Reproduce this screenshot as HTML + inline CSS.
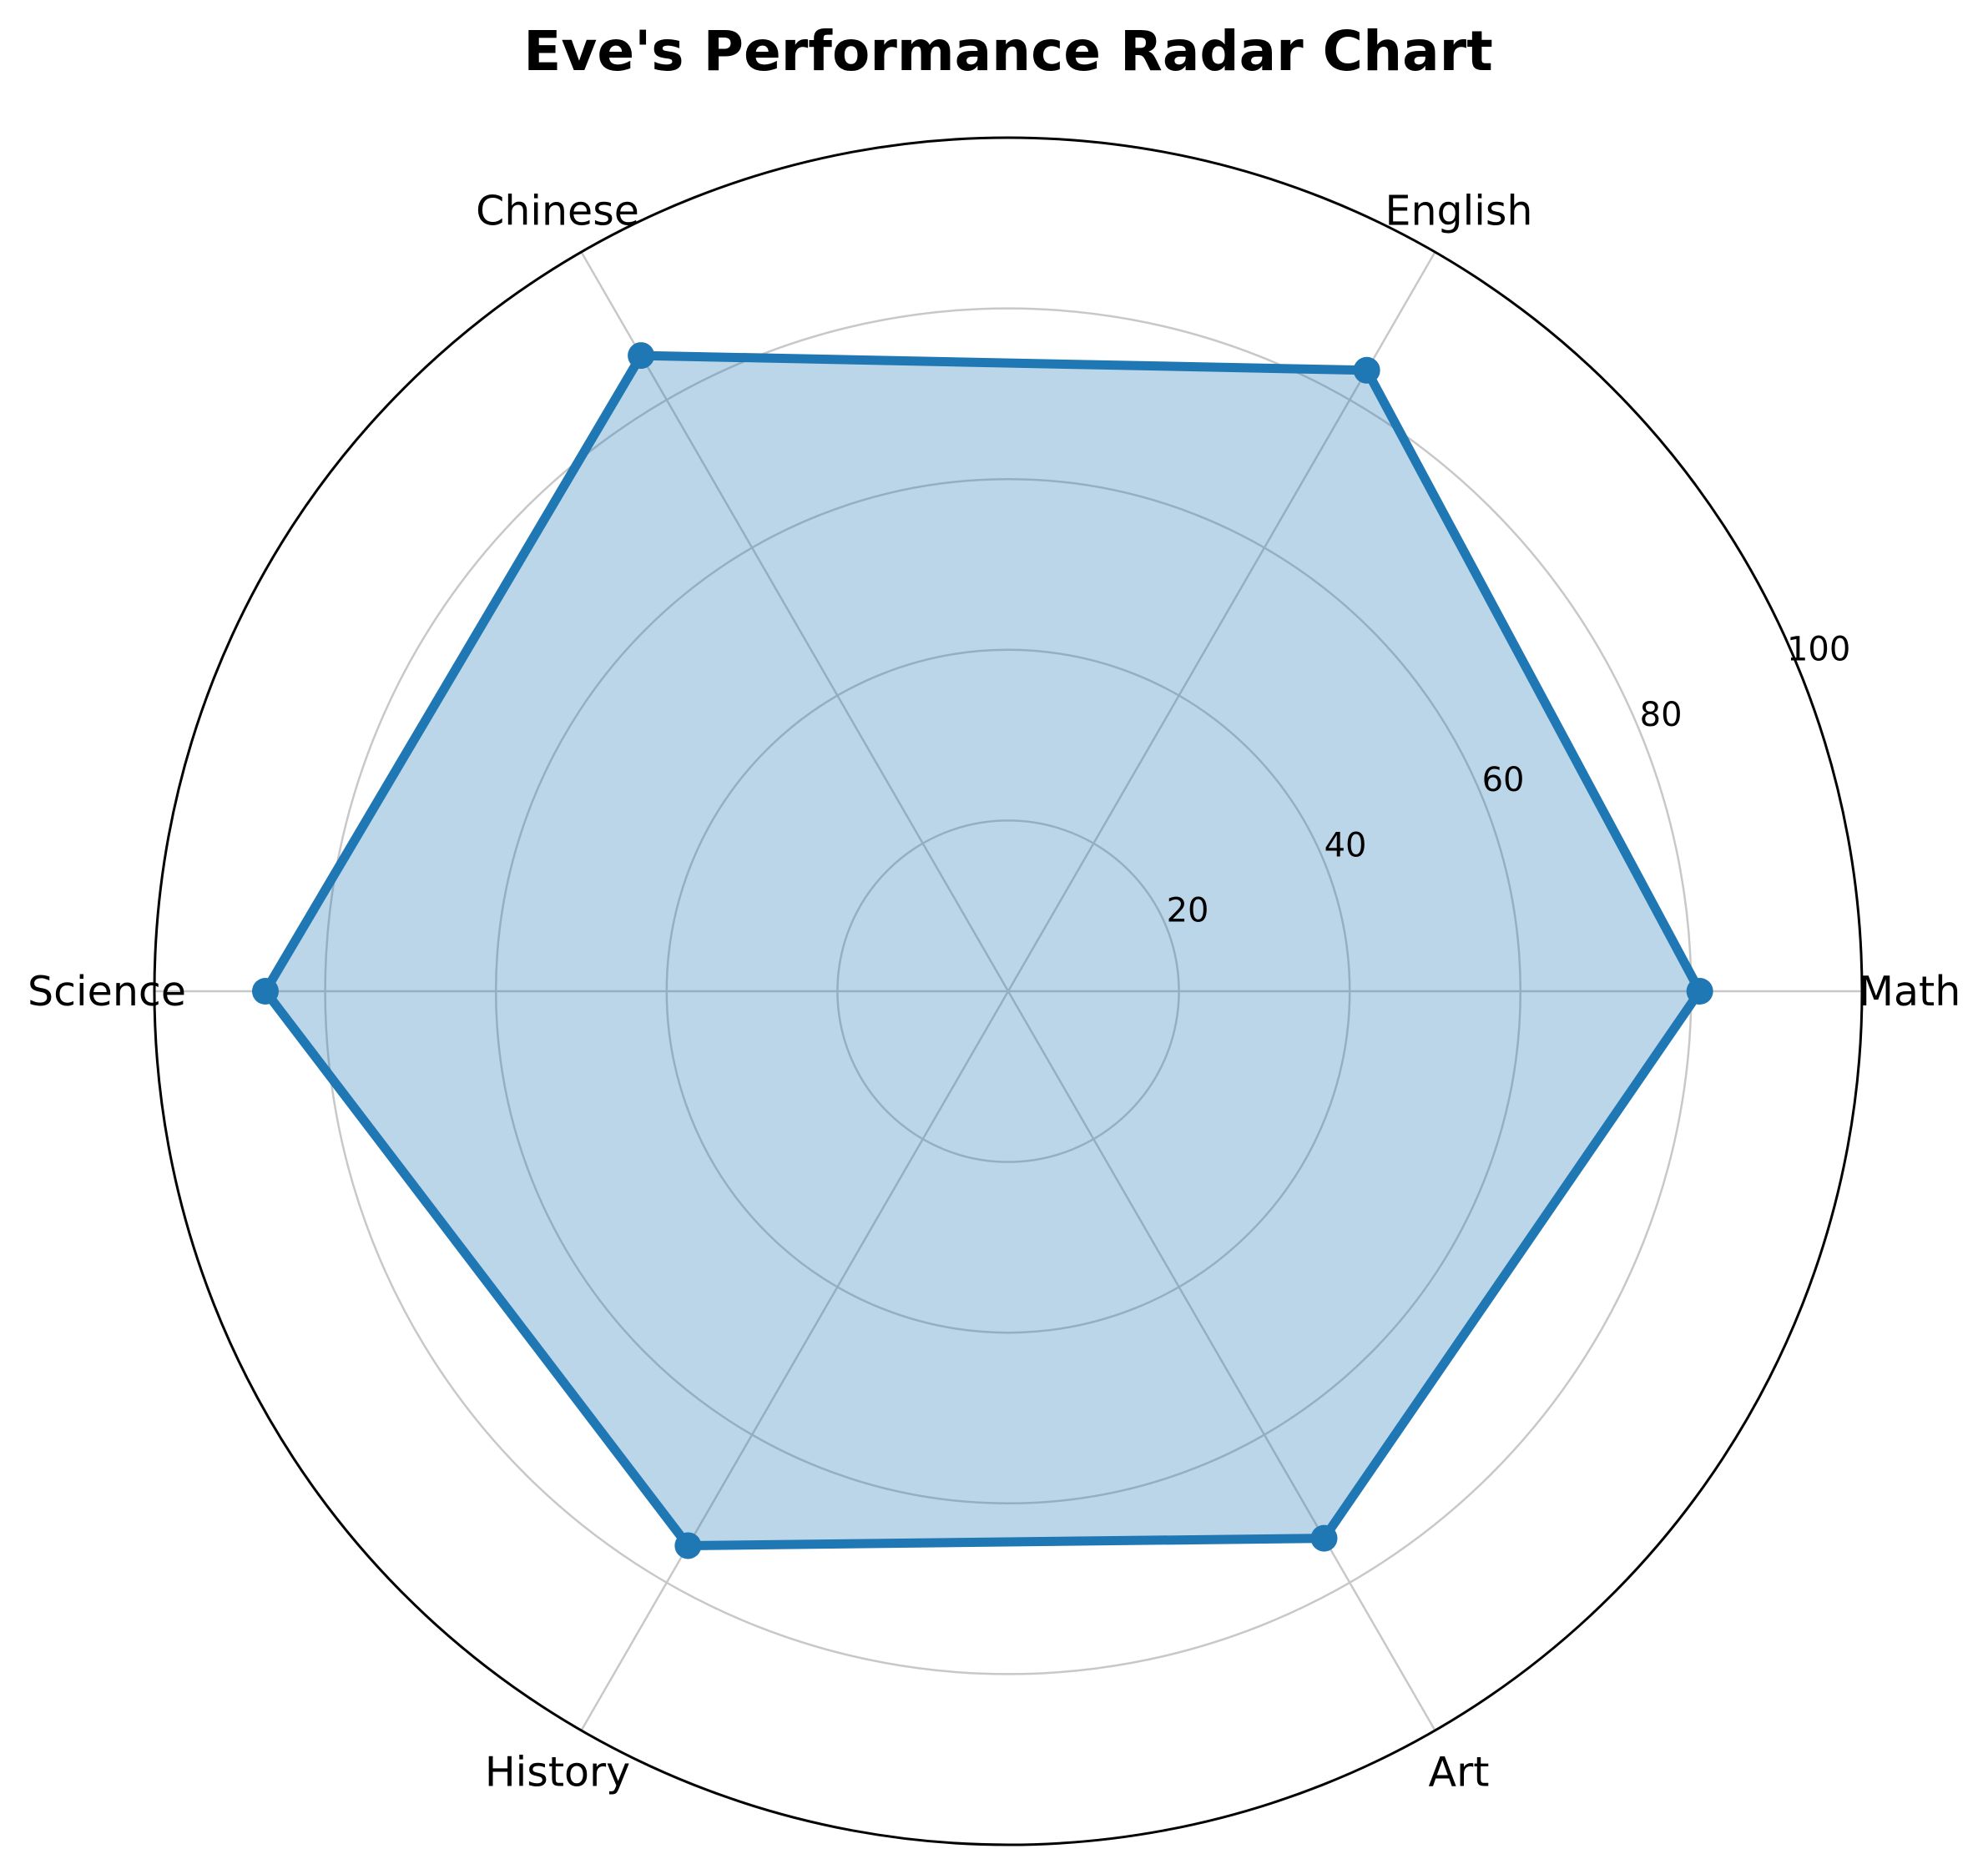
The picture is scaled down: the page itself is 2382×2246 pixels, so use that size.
<!DOCTYPE html>
<html><head><meta charset="utf-8"><style>
html,body{margin:0;padding:0;background:#fff;}
svg text{font-family:"DejaVu Sans","Liberation Sans",sans-serif;}
</style></head><body>
<svg id="chart" width="2382" height="2241" viewBox="0 0 2382 2241" xmlns="http://www.w3.org/2000/svg">
<rect width="2382" height="2241" fill="#fff"/>
<text x="1208" y="84" text-anchor="middle" font-size="66" font-weight="bold">Eve's Performance Radar Chart</text>
<g id="grid"></g>
<g id="marks"></g>
<g id="labels"></g>
</svg>
<script>
const categories = ["Math","English","Chinese","Science","History","Art"];
const scores = [81,84,86,87,75,74];
const tickValues = [20,40,60,80,100];
const tickLabels = ["20","40","60","80","100"];

const cx=1208, cy=1188, R=1023, maxV=100;
const NS="http://www.w3.org/2000/svg";
function rScale(v){return v/maxV*R;}
function angle(i){return i*2*Math.PI/categories.length;}
function pt(i,v){const a=angle(i),r=rScale(v);return [cx+r*Math.cos(a),cy-r*Math.sin(a)];}
function mk(tag,attrs,parent){const e=document.createElementNS(NS,tag);for(const k in attrs)e.setAttribute(k,attrs[k]);parent.appendChild(e);return e;}
const grid=document.getElementById('grid'),marks=document.getElementById('marks'),labels=document.getElementById('labels');

tickValues.forEach((t,i)=>{
  if(t<maxV){
    const c=mk('circle',{cx:cx,cy:cy,r:rScale(t),fill:'none',stroke:'#c8c8c8','stroke-width':2.5},grid);
    
    
  }
  const a=22.5*Math.PI/180,r=rScale(t);
  const tx=mk('text',{x:cx+r*Math.cos(a)+26,y:cy-r*Math.sin(a)-19+14,'text-anchor':'middle','font-size':40},labels);
  tx.textContent=tickLabels[i];
  
  
});
categories.forEach((c,i)=>{
  const p=pt(i,maxV);
  const l=mk('line',{x1:cx,y1:cy,x2:p[0],y2:p[1],stroke:'#c8c8c8','stroke-width':2.5},grid);
  
  
  const a=angle(i),r=1080;
  const t=mk('text',{x:cx+r*Math.cos(a),y:cy-r*Math.sin(a)+17,'text-anchor':'middle','font-size':49},labels);
  t.textContent=c;
  
  
});
const outer=mk('circle',{cx:cx,cy:cy,r:R,fill:'none',stroke:'#000','stroke-width':3},grid);



const pts=scores.map((v,i)=>pt(i,v));
const d=pts.map((p,i)=>(i?'L':'M')+p[0].toFixed(1)+' '+p[1].toFixed(1)).join(' ')+' Z';
const area=mk('path',{d:d,fill:'#1f77b4','fill-opacity':0.3,stroke:'none'},marks);


const line=mk('path',{d:d,fill:'none',stroke:'#1f77b4','stroke-width':11,'stroke-linejoin':'round'},marks);


pts.forEach(p=>{
  const m=mk('circle',{cx:p[0],cy:p[1],r:16,fill:'#1f77b4'},marks);
  
  
});
</script>
</body></html>
